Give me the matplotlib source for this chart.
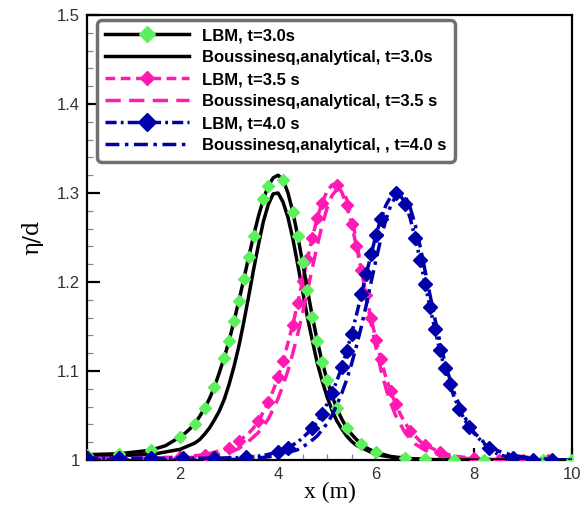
import matplotlib
matplotlib.use("Agg")
import matplotlib.pyplot as plt
from matplotlib.ticker import MultipleLocator, FuncFormatter

plt.rcParams['lines.scale_dashes'] = False

# Boussinesq analytical, t = 3.0 s
x_an30 = [0.1, 0.5, 1.0, 1.5, 2.0, 2.3, 2.4, 2.5, 2.6, 2.7, 2.8, 2.9, 3.0, 3.1, 3.2, 3.3,
          3.4, 3.5, 3.6, 3.7, 3.8, 3.9, 4.0, 4.1, 4.2, 4.3, 4.4, 4.5, 4.6, 4.7, 4.8, 4.9,
          5.0, 5.1, 5.2, 5.3, 5.4, 5.5, 5.6, 6.0, 6.5, 7.0, 8.0, 9.0, 10.0]
y_an30 = [1.005, 1.005, 1.0055, 1.007, 1.012, 1.019, 1.023, 1.029, 1.036, 1.045, 1.055,
          1.068, 1.085, 1.105, 1.128, 1.155, 1.184, 1.214, 1.242, 1.268, 1.287, 1.299,
          1.300, 1.290, 1.273, 1.249, 1.220, 1.190, 1.160, 1.134, 1.109, 1.089, 1.071,
          1.056, 1.044, 1.035, 1.027, 1.021, 1.0165, 1.006, 1.0016, 1.0004, 1.0, 1.0, 1.0]

# LBM, t = 3.0 s
x_lbm30 = [0.1, 0.75, 1.4, 1.7, 2.0, 2.1, 2.2, 2.3, 2.4, 2.5, 2.6, 2.7, 2.8, 2.9, 3.0,
           3.1, 3.2, 3.3, 3.4, 3.5, 3.6, 3.7, 3.8, 3.9, 4.0, 4.1, 4.2, 4.3, 4.4, 4.5,
           4.6, 4.7, 4.8, 4.9, 5.0, 5.1, 5.2, 5.3, 5.4, 5.5, 5.6, 5.7, 5.8, 5.9, 6.0,
           6.3, 6.6, 7.0, 7.6, 8.2, 8.8, 9.4, 10.0]
y_lbm30 = [1.006, 1.007, 1.011, 1.016, 1.026, 1.030, 1.035, 1.041, 1.049, 1.058, 1.069,
           1.082, 1.098, 1.115, 1.134, 1.156, 1.179, 1.203, 1.228, 1.252, 1.274, 1.293,
           1.308, 1.317, 1.320, 1.315, 1.3005, 1.279, 1.252, 1.222, 1.191, 1.161, 1.134,
           1.110, 1.090, 1.072, 1.058, 1.046, 1.036, 1.029, 1.023, 1.018, 1.0137, 1.011,
           1.0085, 1.004, 1.002, 1.0007, 1.0, 1.0, 1.0, 1.0, 1.0]

# LBM, t = 3.5 s
x_lbm35 = [0.1, 0.75, 1.4, 2.0, 2.5, 3.0, 3.2, 3.4, 3.5, 3.6, 3.7, 3.8, 3.9, 4.0, 4.1,
           4.2, 4.3, 4.4, 4.5, 4.6, 4.7, 4.8, 4.9, 5.0, 5.1, 5.15, 5.2, 5.3, 5.4, 5.5,
           5.6, 5.7, 5.8, 5.9, 6.0, 6.1, 6.2, 6.3, 6.4, 6.5, 6.6, 6.7, 6.8, 6.9, 7.0,
           7.3, 7.6, 8.0, 8.5, 9.0, 9.5, 10.0]
y_lbm35 = [1.002, 1.002, 1.003, 1.003, 1.006, 1.013, 1.021, 1.030, 1.036, 1.044, 1.054,
           1.065, 1.078, 1.093, 1.111, 1.131, 1.152, 1.176, 1.201, 1.226, 1.250, 1.272,
           1.289, 1.302, 1.309, 1.310, 1.309, 1.301, 1.286, 1.265, 1.240, 1.213, 1.185,
           1.159, 1.135, 1.113, 1.093, 1.077, 1.063, 1.051, 1.041, 1.033, 1.027, 1.021,
           1.017, 1.009, 1.0044, 1.0017, 1.0, 1.0, 1.0, 1.0]

# Boussinesq analytical, t = 3.5 s
x_an35 = [0.1, 1.0, 2.0, 2.5, 3.0, 3.2, 3.4, 3.6, 3.8, 3.9, 4.0, 4.1, 4.2, 4.3, 4.4,
          4.5, 4.6, 4.7, 4.8, 4.9, 5.0, 5.1, 5.2, 5.25, 5.3, 5.4, 5.5, 5.6, 5.7, 5.8,
          5.9, 6.0, 6.1, 6.2, 6.3, 6.4, 6.6, 6.8, 7.0, 7.4, 8.0, 9.0, 10.0]
y_an35 = [1.002, 1.002, 1.002, 1.004, 1.008, 1.013, 1.021, 1.031, 1.046, 1.057, 1.069,
          1.084, 1.100, 1.120, 1.141, 1.165, 1.190, 1.216, 1.241, 1.264, 1.283, 1.297,
          1.304, 1.305, 1.304, 1.293, 1.273, 1.246, 1.215, 1.184, 1.153, 1.126, 1.101,
          1.081, 1.064, 1.050, 1.030, 1.018, 1.011, 1.004, 1.001, 1.0, 1.0]

# LBM, t = 4.0 s
x_lbm40 = [0.1, 0.75, 1.4, 2.05, 2.7, 3.35, 3.7, 4.0, 4.2, 4.4, 4.5, 4.6, 4.7, 4.8,
           4.9, 5.0, 5.1, 5.2, 5.3, 5.4, 5.5, 5.6, 5.7, 5.8, 5.9, 6.0, 6.1, 6.2, 6.3,
           6.4, 6.5, 6.6, 6.7, 6.8, 6.9, 7.0, 7.1, 7.2, 7.3, 7.4, 7.5, 7.6, 7.7, 7.8,
           7.9, 8.0, 8.1, 8.2, 8.3, 8.5, 8.8, 9.2, 9.6, 10.0]
y_lbm40 = [1.002, 1.002, 1.002, 1.002, 1.002, 1.003, 1.005, 1.009, 1.014, 1.020, 1.025,
           1.030, 1.036, 1.043, 1.052, 1.063, 1.075, 1.089, 1.104, 1.122, 1.142, 1.163,
           1.186, 1.209, 1.231, 1.253, 1.271, 1.286, 1.296, 1.300, 1.297, 1.288, 1.271,
           1.249, 1.225, 1.198, 1.172, 1.147, 1.124, 1.103, 1.085, 1.070, 1.057, 1.046,
           1.037, 1.030, 1.024, 1.019, 1.013, 1.006, 1.002, 1.0, 1.0, 1.0]

# Boussinesq analytical, t = 4.0 s
x_an40 = [0.1, 2.0, 3.0, 3.5, 4.0, 4.4, 4.6, 4.8, 5.0, 5.1, 5.2, 5.3, 5.4, 5.5, 5.6,
          5.7, 5.8, 5.9, 6.0, 6.1, 6.2, 6.3, 6.4, 6.5, 6.6, 6.7, 6.8, 6.9, 7.0, 7.1,
          7.2, 7.3, 7.4, 7.5, 7.6, 7.8, 8.0, 8.2, 8.5, 8.8, 9.3, 10.0]
y_an40 = [1.0, 1.0001, 1.0005, 1.0016, 1.0049, 1.0116, 1.018, 1.027, 1.041, 1.050,
          1.062, 1.075, 1.090, 1.108, 1.128, 1.150, 1.174, 1.200, 1.225, 1.249, 1.270,
          1.286, 1.296, 1.300, 1.296, 1.283, 1.264, 1.240, 1.213, 1.186, 1.159, 1.134,
          1.111, 1.092, 1.075, 1.049, 1.031, 1.020, 1.010, 1.005, 1.0014, 1.0]

labels = ["LBM, t=3.0s", "Boussinesq,analytical, t=3.0s",
          "LBM, t=3.5 s", "Boussinesq,analytical, t=3.5 s",
          "LBM, t=4.0 s", "Boussinesq,analytical, , t=4.0 s"]

GREEN = "#5cf05c"
PINK = "#ff1ab2"
BLUE = "#0000a8"
LW = 2.5
EVERY = 0.035

fig = plt.figure(figsize=(5.86, 5.07), dpi=100)
ax = fig.add_axes([0.1485, 0.0927, 0.8276, 0.8777])

h_an30, = ax.plot(x_an30, y_an30, color="black", lw=LW, zorder=3)
h_lbm30, = ax.plot(x_lbm30, y_lbm30, color="black", lw=LW, marker="D", ms=6.5,
                   mfc=GREEN, mec=GREEN, markevery=EVERY, zorder=4)
h_lbm35, = ax.plot(x_lbm35, y_lbm35, color=PINK, lw=LW, dashes=(7, 4), marker="D",
                   ms=6, mfc=PINK, mec=PINK, markevery=EVERY, zorder=3)
h_an35, = ax.plot(x_an35, y_an35, color=PINK, lw=LW, dashes=(11, 6), zorder=3)
h_lbm40, = ax.plot(x_lbm40, y_lbm40, color=BLUE, lw=LW, dashes=(8, 3, 2, 3), marker="D",
                   ms=7, mfc=BLUE, mec=BLUE, markevery=EVERY, zorder=5)
h_an40, = ax.plot(x_an40, y_an40, color=BLUE, lw=LW, dashes=(10, 4, 2.5, 4), zorder=5)

ax.set_xlim(0.1, 10)
ax.set_ylim(1.0, 1.5)

ax.xaxis.set_major_locator(MultipleLocator(2))
ax.xaxis.set_minor_locator(MultipleLocator(0.5))
ax.yaxis.set_major_locator(MultipleLocator(0.1))
ax.yaxis.set_minor_locator(MultipleLocator(0.02))
ax.yaxis.set_major_formatter(FuncFormatter(lambda v, p: f"{v:g}"))
ax.xaxis.set_major_formatter(FuncFormatter(lambda v, p: f"{v:g}"))

ax.tick_params(which="both", direction="in", top=False, right=False)
ax.tick_params(which="major", length=9, width=1.6, color="black",
               labelsize=12, labelcolor="#333333", pad=5)
ax.tick_params(which="minor", length=4.5, width=0.9, color="#888888")
for lab in ax.get_xticklabels() + ax.get_yticklabels():
    lab.set_family("Liberation Sans")

for sp in ax.spines.values():
    sp.set_linewidth(1.6)
    sp.set_color("black")

ax.set_xlabel("x (m)", family="Liberation Serif", fontsize=17, labelpad=0)
ax.set_ylabel("η/d", family="DejaVu Serif", fontsize=16, labelpad=10)

leg = ax.legend([h_lbm30, h_an30, h_lbm35, h_an35, h_lbm40, h_an40], labels,
                loc="upper left", bbox_to_anchor=(97 / 586, 1 - 20 / 507),
                bbox_transform=fig.transFigure, borderaxespad=0,
                prop={"family": "Liberation Sans", "weight": "bold", "size": 12},
                handlelength=5.0, handletextpad=0.8, labelspacing=0.42,
                borderpad=0.5, markerscale=1.25, fancybox=True, framealpha=1)
frame = leg.get_frame()
frame.set_edgecolor("#707070")
frame.set_linewidth(2.5)
frame.set_boxstyle("round,pad=0,rounding_size=0.3")

fig.savefig("out.png", dpi=100)
